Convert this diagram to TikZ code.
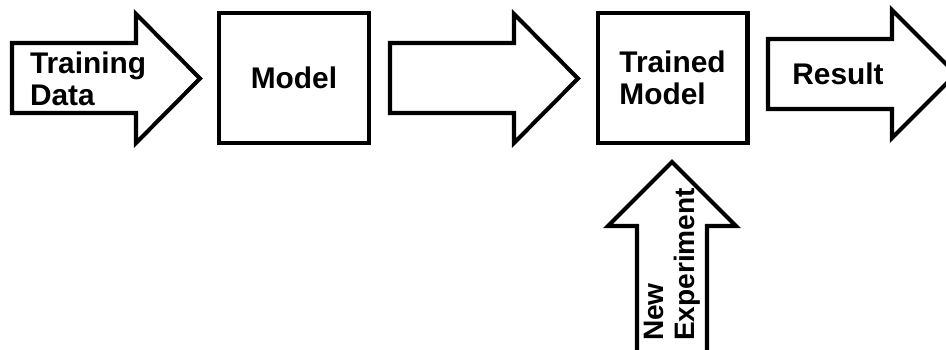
\documentclass[tikz,border=0pt]{standalone}
\usepackage{fontspec}
\setmainfont{Liberation Sans}

\begin{document}
\begin{tikzpicture}[x=0.02cm, y=-0.02cm, line width=2.3pt, line join=miter,
    txt/.style={font=\fontsize{17}{18.2}\selectfont\bfseries, align=left, inner sep=0pt},
    box/.style={draw, txt, minimum width=3cm, minimum height=2.6cm}]
  \clip (0,0) rectangle (946,350);
  % input arrow
  \draw (12,43) -- (136,43) -- (136,14) -- (200,78.5) -- (136,143)
    -- (136,113) -- (12,113) -- cycle;
  \node[txt, anchor=west] (traindata) at (28,78.5) {Training\\Data};
  \node[box] (model) at (294,78) {Model};
  % training step
  \draw (390,43) -- (514,43) -- (514,14) -- (578,78.5) -- (514,143)
    -- (514,113) -- (390,113) -- cycle;
  \node[box] (trained) at (672.5,78) {Trained\\Model};
  % output arrow
  \draw (768,39) -- (892,39) -- (892,10) -- (956,74) -- (892,138)
    -- (892,109) -- (768,109) -- cycle;
  \node[txt] (result) at (838,74) {Result};
  % new data comes in from below
  \draw (637,360) -- (637,226) -- (608,226) -- (672,162) -- (736,226)
    -- (707,226) -- (707,360) -- cycle;
  \node[txt, font=\fontsize{16}{17.6}\selectfont\bfseries, rotate=90, anchor=west]
    (newexp) at (672,343) {New\\Experiment};
\end{tikzpicture}
\end{document}
